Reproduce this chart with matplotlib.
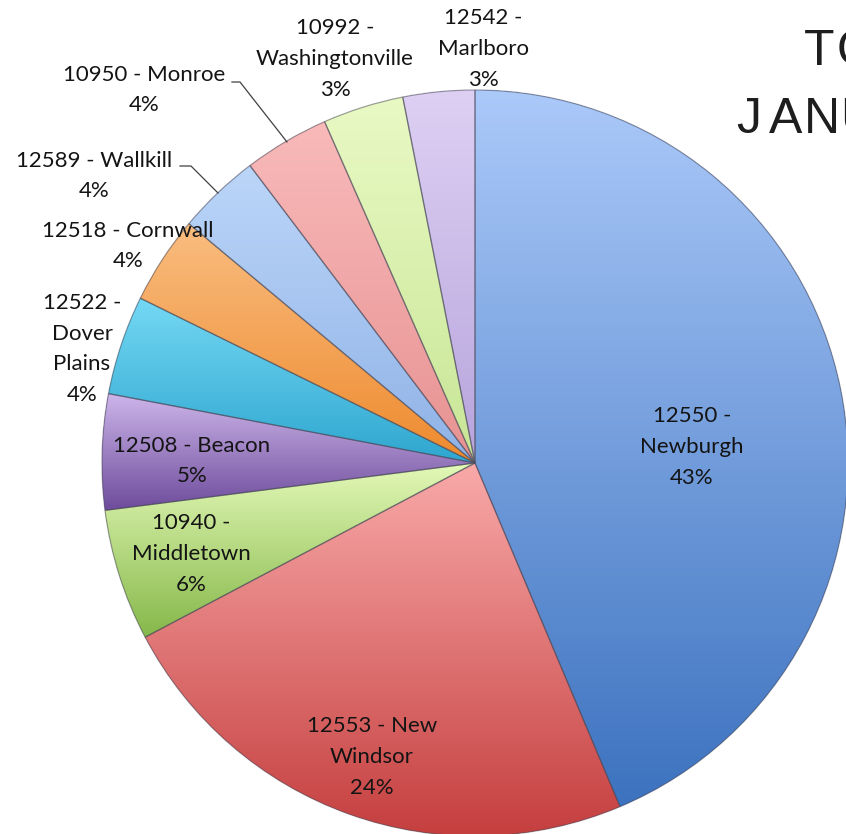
import numpy as np
import matplotlib
matplotlib.use('Agg')
import matplotlib.pyplot as plt
from matplotlib.colors import to_rgb
from matplotlib.patches import PathPatch

# datos (porcentaje de cada zona)
zips = ['12550', '12553', '10940', '12508', '12522', '12518', '12589', '10950', '10992', '12542']
towns = ['Newburgh', 'New Windsor', 'Middletown', 'Beacon', 'Dover Plains',
         'Cornwall', 'Wallkill', 'Monroe', 'Washingtonville', 'Marlboro']
shares = [43.6, 23.6, 5.7, 5.0, 4.3, 3.8, 3.6, 3.7, 3.5, 3.1]
pct_labels = ['43%', '24%', '6%', '5%', '4%', '4%', '4%', '4%', '3%', '3%']

# colores (claro arriba, oscuro abajo)
light = ['#abc9f9', '#f9a9a9', '#e4f9b8', '#cdb6ea', '#74d8f4', '#f9bd80',
         '#bcd6f9', '#f9baba', '#e9f9c4', '#ddd0f3']
dark = ['#3c72bf', '#c43c3c', '#86b84a', '#6e4c9c', '#2ea6cf', '#ee8a2e',
        '#8fb2e6', '#e79292', '#c8e696', '#b7a4dc']

W, H = 846, 834
fig = plt.figure(figsize=(W / 100, H / 100), dpi=100)
ax = fig.add_axes([0, 0, 1, 1])

cx, cy, R = 475, H - 463, 373

wedges, _ = ax.pie(shares, colors=dark, startangle=90, counterclock=False,
                   center=(cx, cy), radius=R,
                   wedgeprops=dict(edgecolor='none', linewidth=0))

# gradiente vertical en cada porcion
for w, c1, c2 in zip(wedges, light, dark):
    v = w.get_path().vertices
    x0, x1 = v[:, 0].min(), v[:, 0].max()
    y0, y1 = v[:, 1].min(), v[:, 1].max()
    t = np.linspace(0, 1, 256)[:, None, None]
    grad = (1 - t) * np.array(to_rgb(c1)) + t * np.array(to_rgb(c2))
    im = ax.imshow(grad, extent=[x0, x1, y0, y1], origin='upper',
                   aspect='auto', zorder=2, interpolation='bilinear')
    im.set_clip_path(w)
    w.set_zorder(1)
    # borde
    ax.add_patch(PathPatch(w.get_path(), fill=False, edgecolor='#4a4a5a',
                           linewidth=0.9, alpha=0.5, zorder=3))

lab_font = dict(family=['Lato', 'DejaVu Sans'], fontsize=16, color='#141414',
                ha='center', va='center', linespacing=1.66, zorder=5)

# posiciones de las etiquetas (pixeles, desde arriba)
lab_text = ['12550 -\nNewburgh', '12553 - New\nWindsor', '10940 -\nMiddletown',
            '12508 - Beacon', '12522 -\nDover\nPlains', '12518 - Cornwall',
            '12589 - Wallkill', '10950 - Monroe', '10992 -\nWashingtonville',
            '12542 -\nMarlboro']
lab_x = [692, 372, 191, 192, 82, 128, 94, 144, 335, 483]
lab_y = [447, 757, 554, 461, 349, 246, 176, 90, 59, 49]
for s, p, x, y in zip(lab_text, pct_labels, lab_x, lab_y):
    ax.text(x, H - y, s + '\n' + p, **lab_font)

# lineas guia
ax.plot([180, 191, 218], [H - 166, H - 166, H - 193], color='#404040', lw=0.9, zorder=4)
ax.plot([232, 240, 287], [H - 82, H - 82, H - 142], color='#404040', lw=0.9, zorder=4)

# titulo (recortado en el borde)
tfont = dict(family=['Liberation Sans', 'DejaVu Sans'], fontsize=36,
             color='#1e1e1e', ha='center', va='baseline', zorder=6)
title1 = ['T', 'O']
title2 = ['J', 'A', 'N', 'U']
for i, ch in enumerate(title1):
    ax.text(819 + 37 * i, H - 65, ch, **tfont)
for i, ch in enumerate(title2):
    ax.text(749 + 36.5 * i, H - 133, ch, **tfont)

ax.set_xlim(0, W)
ax.set_ylim(0, H)
ax.set_aspect('auto')
ax.axis('off')

fig.savefig('out.png', dpi=100)
